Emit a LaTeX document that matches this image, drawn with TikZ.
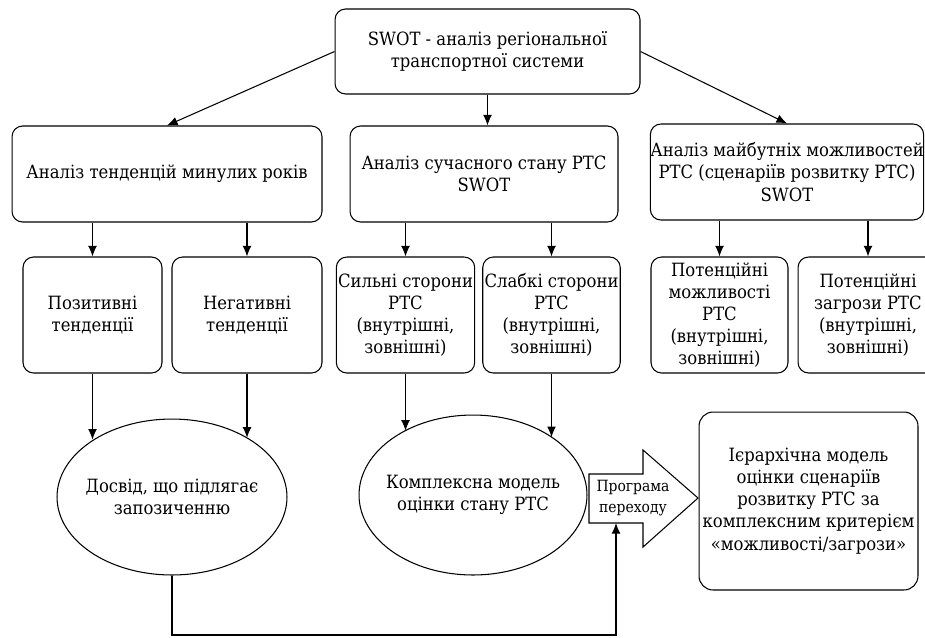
\documentclass[tikz,border=0pt]{standalone}
\usepackage{fontspec}
\setmainfont{DejaVu Serif Condensed}
\newfontfamily\labelfont{DejaVu Serif Condensed}
\usetikzlibrary{arrows.meta,positioning,shapes.geometric}

\begin{document}
\begin{tikzpicture}[x=0.02cm, y=-0.02cm, line width=0.6pt,
  >={Latex[length=6pt,width=5pt]},
  every node/.style={font=\labelfont\fontsize{10.4}{12.6}\selectfont, align=center, inner sep=1pt},
  rbox/.style={draw, rounded corners=6pt},
  oval/.style={draw, ellipse, inner xsep=-5pt, inner ysep=0pt}]
  \useasboundingbox (0,0) rectangle (925,637);
  % top
  \node[rbox, minimum width=6.1cm, minimum height=1.7cm] (swot) at (487.5,51.5)
    {SWOT - аналіз регіональної\\транспортної системи};
  % second row
  \node[rbox, minimum width=6.2cm, minimum height=1.92cm] (past) at (167,174)
    {Аналіз тенденцій минулих років};
  \node[rbox, minimum width=5.36cm, minimum height=1.92cm] (present) at (484,174)
    {Аналіз сучасного стану РТС\\SWOT};
  \node[rbox, inner xsep=0pt, minimum width=5.4cm, minimum height=1.92cm] (future) at (787,172)
    {Аналіз майбутніх можливостей\\РТС (сценаріїв розвитку РТС)\\SWOT};
  % third row
  \node[rbox, minimum width=2.78cm, minimum height=2.32cm] (pos) at (92.5,315)
    {Позитивні\\тенденції};
  \node[rbox, minimum width=3.0cm, minimum height=2.32cm] (neg) at (247,315)
    {Негативні\\тенденції};
  \node[rbox, minimum width=2.74cm, minimum height=2.32cm] (strong) at (405.5,315)
    {Сильні сторони\\РТС\\(внутрішні,\\зовнішні)};
  \node[rbox, minimum width=2.66cm, minimum height=2.32cm] (weak) at (551.5,315)
    {Слабкі сторони\\РТС\\(внутрішні,\\зовнішні)};
  \node[rbox, minimum width=2.74cm, minimum height=2.32cm] (opp) at (719.5,315)
    {Потенційні\\можливості\\РТС\\(внутрішні,\\зовнішні)};
  \node[rbox, minimum width=2.8cm, minimum height=2.32cm] (threat) at (868,315)
    {Потенційні\\загрози РТС\\(внутрішні,\\зовнішні)};
  % bottom
  \node[oval, minimum width=4.6cm, minimum height=3.12cm] (exp) at (172,497)
    {Досвід, що підлягає\\запозиченню};
  \node[oval, minimum width=4.56cm, minimum height=3.2cm] (model) at (473,495)
    {Комплексна модель\\оцінки стану РТС};
  \node[rbox, rounded corners=8pt, minimum width=4.38cm, minimum height=3.56cm] (hier) at (808.5,501)
    {Ієрархічна модель\\оцінки сценаріїв\\розвитку РТС за\\комплексним критерієм\\«можливості/загрози»};
  % transition arrow
  \draw (589,474) -- (643,474) -- (643,450) -- (698,498) -- (643,547) -- (643,523) -- (589,523) -- cycle;
  \node[font=\labelfont\fontsize{8.8}{12}\selectfont] (prog) at (633,498) {Програма\\переходу};
  \coordinate (progin) at (616,523);
  \coordinate (fbot) at (0,635);
  % arrows
  \draw[->] (swot.west) -- (past.north);
  \draw[->] (swot.south) -- (swot.south |- present.north);
  \draw[->] (swot.east) -- (future.north);
  \foreach \a/\b in {past/pos, past/neg, present/strong, present/weak, future/opp, future/threat}
    \draw[->] (\b |- \a.south) -- (\b.north);
  \draw[->] (pos.south) -- (pos.south |- exp.144);
  \draw[->] (neg.south) -- (neg.south |- exp.38);
  \draw[->] (strong.south) -- (strong.south |- model.137);
  \draw[->] (weak.south) -- (weak.south |- model.36);
  % feedback
  \draw[->] (exp.south) -- (exp.south |- fbot) -| (progin);
\end{tikzpicture}
\end{document}
